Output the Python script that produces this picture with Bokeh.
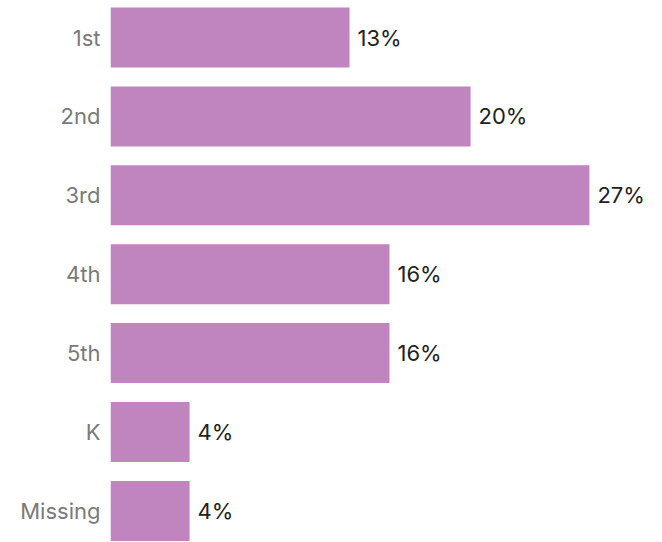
from bokeh.plotting import figure
from bokeh.models import ColumnDataSource, Range1d, FixedTicker, LabelSet
from bokeh.core.properties import value
from bokeh.embed import file_html
from bokeh.resources import INLINE

categories = ["1st", "2nd", "3rd", "4th", "5th", "K", "Missing"]
values = [13.39, 20.17, 26.83, 15.63, 15.63, 4.43, 4.43]
labels = [f"{round(v)}%" for v in values]
positions = list(range(len(categories)))

src = ColumnDataSource(dict(y=positions, v=values, lab=labels))

PX_PER_UNIT = 78.9
p = figure(width=662, height=542, output_backend="svg", toolbar_location=None,
           x_range=Range1d(0, 552 / 17.85),
           y_range=Range1d(-0.469 + 542 / PX_PER_UNIT, -0.469),
           min_border_left=110, min_border_right=0, min_border_top=0, min_border_bottom=0)
p.hbar(y="y", right="v", left=0, height=0.76, source=src, color="#c084bf", line_color=None)

lbl = LabelSet(x="v", y="y", text="lab", source=src, x_offset=8, text_baseline="middle",
               text_font=value("Inter"), text_font_size="22px", text_color="#222222")
p.add_layout(lbl)

p.xaxis.visible = False
p.yaxis.ticker = FixedTicker(ticks=positions)
p.yaxis.major_label_overrides = {i: c for i, c in enumerate(categories)}
p.yaxis.major_label_text_font = "Inter"
p.yaxis.major_label_text_font_size = "22px"
p.yaxis.major_label_text_color = "#7a7a7a"
p.yaxis.major_label_standoff = 4
p.yaxis.major_tick_line_color = None
p.yaxis.minor_tick_line_color = None
p.yaxis.axis_line_color = None
p.xgrid.visible = False
p.ygrid.visible = False
p.outline_line_color = None

open("out.html", "w").write(file_html(p, INLINE))
